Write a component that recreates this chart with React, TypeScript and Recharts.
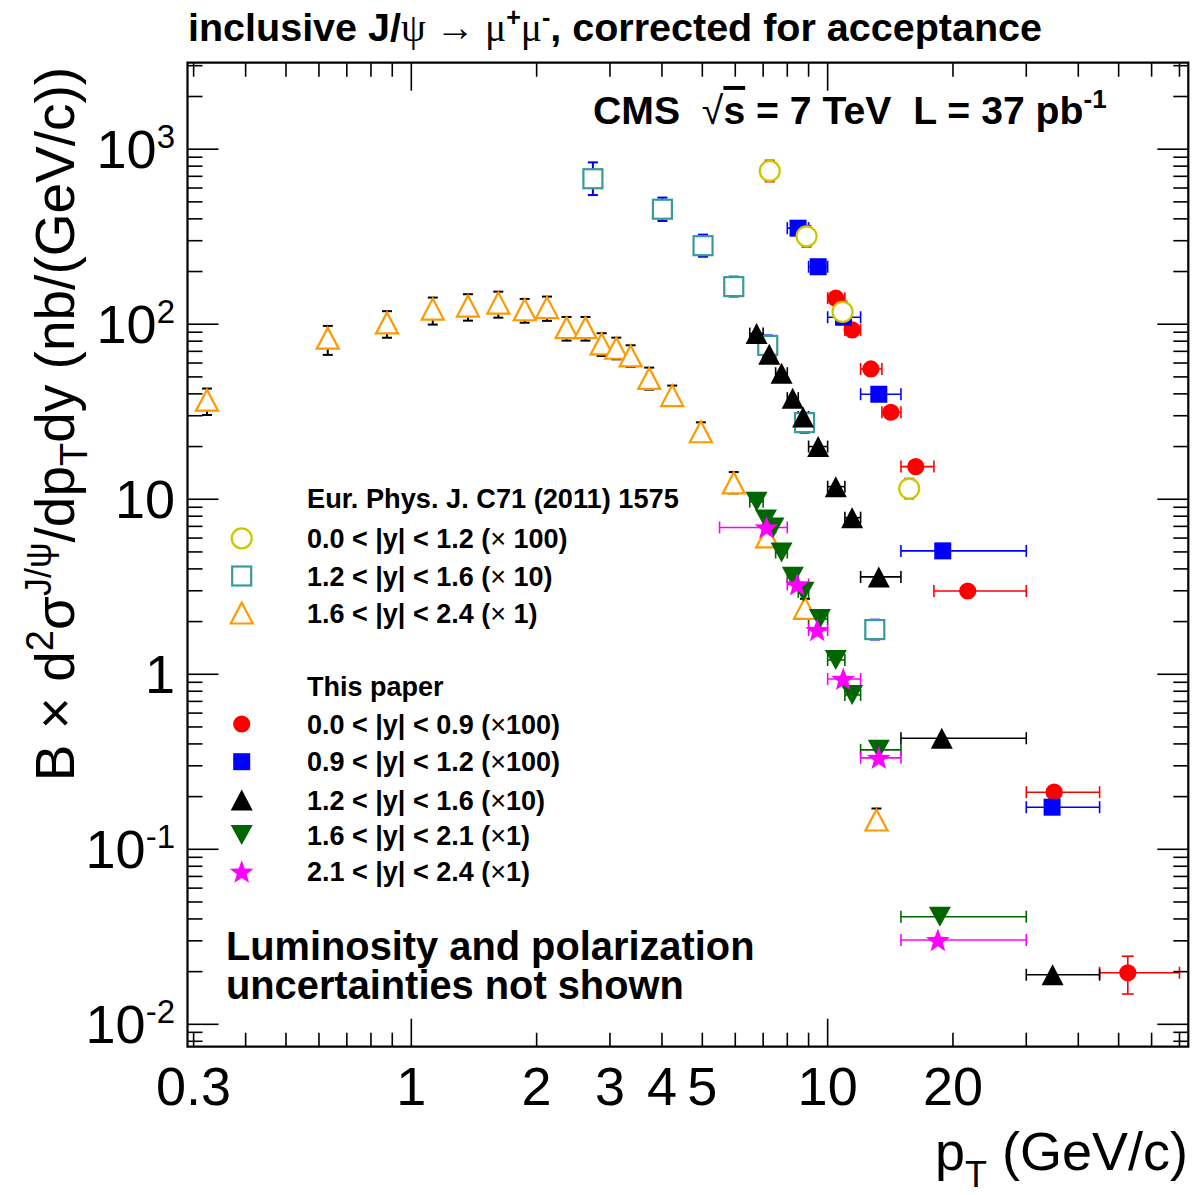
import { ScatterChart, Scatter, XAxis, YAxis, ErrorBar, ReferenceArea } from "recharts";

// page / frame geometry (pixels)
const W = 1194;
const H = 1195;
const PLOT = { left: 187.5, right: 1188.3, top: 62.7, bottom: 1046.7 };
const X_DOMAIN: [number, number] = [0.29, 73.5];
const Y_DOMAIN: [number, number] = [0.00745, 3120];
const FONT = "'Liberation Sans', Helvetica, Arial, sans-serif";
const SYMBOL_FONT = "'Liberation Serif', 'DejaVu Serif', serif";

// ---- axis ticks ----
const xTicks = [0.3, 0.4, 0.5, 0.6, 0.7, 0.8, 0.9, 1, 2, 3, 4, 5, 6, 7, 8, 9, 10, 20, 30, 40, 50, 60, 70];
const xMajorTicks = [1, 10];
const xLabelTicks = [0.3, 1, 2, 3, 4, 5, 10, 20];
const xLabelText = ["0.3", "1", "2", "3", "4", "5", "10", "20"];

const yTicks = [
  0.008, 0.009, 0.01, 0.02, 0.03, 0.04, 0.05, 0.06, 0.07, 0.08, 0.09,
  0.1, 0.2, 0.3, 0.4, 0.5, 0.6, 0.7, 0.8, 0.9,
  1, 2, 3, 4, 5, 6, 7, 8, 9,
  10, 20, 30, 40, 50, 60, 70, 80, 90,
  100, 200, 300, 400, 500, 600, 700, 800, 900,
  1000, 2000, 3000,
];
const yMajorTicks = [0.01, 0.1, 1, 10, 100, 1000];
const yLabelBase = ["10", "10", "1", "10", "10", "10"];
const yLabelExp = ["-2", "-1", "", "", "2", "3"];

// ---- Eur. Phys. J. C71 (2011) 1575 ----
// 0.0 < |y| < 1.2 (x100)
const epjCirclePt = [7.26, 8.9, 10.86, 15.7];
const epjCircleVal = [751, 318, 117.6, 11.5];
const epjCircleErrLo = [97, 41, 15, 1.4];
const epjCircleErrHi = [111, 47, 17, 1.6];

// 1.2 < |y| < 1.6 (x10)
const epjSquarePt = [2.73, 4.01, 5.02, 5.95, 7.18, 8.8, 12.98];
const epjSquareVal = [678, 454, 281, 164, 75.7, 27.4, 1.8];
const epjSquareErrLo = [131, 65, 38, 20, 9.3, 3.4, 0.22];
const epjSquareErrHi = [163, 75, 44, 23, 10.6, 3.8, 0.25];

// 1.6 < |y| < 2.4 (x1)
const epjTriPt = [0.323, 0.63, 0.874, 1.126, 1.368, 1.618, 1.872, 2.118, 2.36, 2.62, 2.865, 3.107, 3.363, 3.728, 4.233, 4.96, 5.95, 7.16, 8.82, 13.1];
const epjTriVal = [36.8, 83.2, 101.7, 122, 127, 132, 121, 124.5, 95.6, 95.6, 77.2, 72.9, 65.9, 49, 39.1, 24.3, 12.4, 6.09, 2.38, 0.147];
const epjTriErrLo = [6.5, 16.4, 18, 22.5, 22.2, 23, 19, 20, 15, 15, 11.3, 9.9, 8.9, 6.7, 5, 3, 1.6, 0.7, 0.3, 0.018];
const epjTriErrHi = [6.1, 14.6, 17, 20, 21.4, 21.5, 18.5, 19.3, 14.4, 14.4, 11.6, 10.9, 9.9, 7.5, 5.5, 3.2, 1.9, 0.8, 0.32, 0.024];

// ---- This paper ----
// 0.0 < |y| < 0.9 (x100)
const redPt = [10.46, 11.45, 12.7, 14.18, 16.28, 21.7, 35.0, 52.6];
const redPtLo = [10, 11, 12, 13.5, 15, 18, 30, 45];
const redPtHi = [11, 12, 13.5, 15, 18, 30, 45, 70];
const redVal = [140.8, 92.8, 55.5, 31.4, 15.36, 2.99, 0.212, 0.0197];
const redErr = [4, 2.6, 1.6, 1, 0.5, 0.12, 0.012, 0.0048];

// 0.9 < |y| < 1.2 (x100)
const bluePt = [8.49, 9.49, 10.92, 13.27, 18.9, 34.6];
const bluePtLo = [8, 9, 10, 12, 15, 30];
const bluePtHi = [9, 10, 12, 15, 30, 45];
const blueVal = [353.7, 213, 109.6, 39.8, 5.07, 0.174];

// 1.2 < |y| < 1.6 (x10)
const blackPt = [6.75, 7.24, 7.75, 8.24, 8.73, 9.49, 10.46, 11.45, 13.27, 18.8, 34.7];
const blackPtLo = [6.5, 7, 7.5, 8, 8.5, 9, 10, 11, 12, 15, 30];
const blackPtHi = [7, 7.5, 8, 8.5, 9, 10, 11, 12, 15, 30, 45];
const blackVal = [88.4, 67.4, 52.5, 37.8, 29.5, 20, 11.8, 7.85, 3.6, 0.431, 0.0192];

// 1.6 < |y| < 2.1 (x1)
const greenPt = [6.75, 7.11, 7.41, 7.75, 8.25, 8.75, 9.58, 10.46, 11.45, 13.27, 18.6];
const greenPtLo = [6.5, 7, 7.25, 7.5, 8, 8.5, 9, 10, 11, 12, 15];
const greenPtHi = [7, 7.25, 7.5, 8, 8.5, 9, 10, 11, 12, 15, 30];
const greenVal = [9.69, 7.65, 6.9, 4.96, 3.61, 2.96, 2.07, 1.207, 0.762, 0.37, 0.0412];

// 2.1 < |y| < 2.4 (x1)
const starPt = [7.13, 8.45, 9.44, 10.9, 13.27, 18.4];
const starPtLo = [5.5, 8, 9, 10, 12, 15];
const starPtHi = [8, 9, 10, 12, 15, 30];
const starVal = [6.9, 3.26, 1.79, 0.94, 0.333, 0.0303];

// ---- legend ----
const epjHeader = "Eur. Phys. J. C71 (2011) 1575";
const epjLabels = ["0.0 < |y| < 1.2 (", "1.2 < |y| < 1.6 (", "1.6 < |y| < 2.4 ("];
const epjFactors = [" 100)", " 10)", " 1)"];
const paperHeader = "This paper";
const paperLabels = ["0.0 < |y| < 0.9 (", "0.9 < |y| < 1.2 (", "1.2 < |y| < 1.6 (", "1.6 < |y| < 2.1 (", "2.1 < |y| < 2.4 ("];
const paperFactors = ["100)", "100)", "10)", "1)", "1)"];

const C = {
  yellow: "#c8c800",
  teal: "#3a9a9a",
  orange: "#ff9900",
  red: "#ff0000",
  blue: "#0000ff",
  black: "#000000",
  green: "#006600",
  magenta: "#ff00ff",
};

type Kind = "openCircle" | "openSquare" | "openTriangle" | "circle" | "square" | "triangle" | "invTriangle" | "star";

function build(pt: number[], val: number[], lo?: number[], hi?: number[], eLo?: number[], eHi?: number[]) {
  return pt.map((x, i) => ({
    x,
    y: val[i],
    ex: lo && hi ? [x - lo[i], hi[i] - x] : [0, 0],
    ey: eLo && eHi ? [eLo[i], eHi[i]] : [0, 0],
  }));
}

const epjCircleData = build(epjCirclePt, epjCircleVal, undefined, undefined, epjCircleErrLo, epjCircleErrHi);
const epjSquareData = build(epjSquarePt, epjSquareVal, undefined, undefined, epjSquareErrLo, epjSquareErrHi);
const epjTriData = build(epjTriPt, epjTriVal, undefined, undefined, epjTriErrLo, epjTriErrHi);
const redData = build(redPt, redVal, redPtLo, redPtHi, redErr, redErr);
const blueData = build(bluePt, blueVal, bluePtLo, bluePtHi);
const blackData = build(blackPt, blackVal, blackPtLo, blackPtHi);
const greenData = build(greenPt, greenVal, greenPtLo, greenPtHi);
const starData = build(starPt, starVal, starPtLo, starPtHi);

function Marker({ kind, cx, cy }: { kind: Kind; cx: number; cy: number }) {
  if (cx == null || cy == null || isNaN(cx) || isNaN(cy)) return <g />;
  switch (kind) {
    case "openCircle":
      return <circle cx={cx} cy={cy} r={10} fill="#fff" stroke={C.yellow} strokeWidth={2.2} />;
    case "openSquare":
      return <rect x={cx - 9.5} y={cy - 9.5} width={19} height={19} fill="#fff" stroke={C.teal} strokeWidth={2.2} />;
    case "openTriangle":
      return (
        <polygon
          points={`${cx},${cy - 10.5} ${cx - 11},${cy + 10.5} ${cx + 11},${cy + 10.5}`}
          fill="#fff"
          stroke={C.orange}
          strokeWidth={2.2}
        />
      );
    case "circle":
      return <circle cx={cx} cy={cy} r={8.6} fill={C.red} />;
    case "square":
      return <rect x={cx - 8.5} y={cy - 8.5} width={17} height={17} fill={C.blue} />;
    case "triangle":
      return <polygon points={`${cx},${cy - 10.5} ${cx - 11},${cy + 10.5} ${cx + 11},${cy + 10.5}`} fill={C.black} />;
    case "invTriangle":
      return <polygon points={`${cx - 11},${cy - 10} ${cx + 11},${cy - 10} ${cx},${cy + 10}`} fill={C.green} />;
    case "star": {
      const pts: string[] = [];
      for (let k = 0; k < 10; k++) {
        const a = (-90 + 36 * k) * (Math.PI / 180);
        const r = k % 2 === 0 ? 12.5 : 5.2;
        pts.push(`${cx + r * Math.cos(a)},${cy + 1 + r * Math.sin(a)}`);
      }
      return <polygon points={pts.join(" ")} fill={C.magenta} />;
    }
  }
  return <g />;
}

const shapeOf = (kind: Kind) => (p: any) => <Marker kind={kind} cx={p.cx} cy={p.cy} />;

function XTick(props: any) {
  const { x, payload } = props;
  const v = payload.value;
  const len = xMajorTicks.indexOf(v) >= 0 ? 28 : 14;
  const li = xLabelTicks.indexOf(v);
  return (
    <g>
      <line x1={x} x2={x} y1={PLOT.bottom} y2={PLOT.bottom - len} stroke="#000" strokeWidth={1.6} />
      <line x1={x} x2={x} y1={PLOT.top} y2={PLOT.top + len} stroke="#000" strokeWidth={1.6} />
      {li >= 0 && (
        <text x={x} y={PLOT.bottom + 58.3} textAnchor="middle" fontSize={54} fontFamily={FONT} fill="#000">
          {xLabelText[li]}
        </text>
      )}
    </g>
  );
}

function YTick(props: any) {
  const { y, payload } = props;
  const v = payload.value;
  const li = yMajorTicks.indexOf(v);
  const len = li >= 0 ? 31 : 15;
  return (
    <g>
      <line x1={PLOT.left} x2={PLOT.left + len} y1={y} y2={y} stroke="#000" strokeWidth={1.6} />
      <line x1={PLOT.right} x2={PLOT.right - len} y1={y} y2={y} stroke="#000" strokeWidth={1.6} />
      {li >= 0 && (
        <text x={175} y={y + 19} textAnchor="end" fontSize={54} fontFamily={FONT} fill="#000">
          {yLabelBase[li]}
          {yLabelExp[li] !== "" && (
            <tspan dy={-20} fontSize={33}>
              {yLabelExp[li]}
            </tspan>
          )}
        </text>
      )}
    </g>
  );
}

function Overlay() {
  const bold = { fontFamily: FONT, fontWeight: 700 as const, whiteSpace: "pre" as const };
  const legendX = 307;
  const markerX = 241.7;
  const epjY = [538.3, 576, 613];
  const epjKinds: Kind[] = ["openCircle", "openSquare", "openTriangle"];
  const paperY = [724, 761.7, 800, 835, 871.7];
  const paperKinds: Kind[] = ["circle", "square", "triangle", "invTriangle", "star"];
  return (
    <svg width={W} height={H} style={{ position: "absolute", left: 0, top: 0, pointerEvents: "none" }}>
      <text x={188} y={41} fontSize={39.5} style={bold} fill="#000">
        inclusive J/<tspan fontWeight={400} fontFamily={SYMBOL_FONT}>ψ → μ</tspan>
        <tspan fontSize={25} dy={-15}>+</tspan>
        <tspan dy={15} fontWeight={400} fontFamily={SYMBOL_FONT}>μ</tspan>
        <tspan fontSize={25} dy={-15}>-</tspan>
        <tspan dy={15}>, corrected for acceptance</tspan>
      </text>

      <text x={593} y={124} fontSize={39.2} style={bold} fill="#000">
        {"CMS  "}
        <tspan fontWeight={400}>√</tspan>
        <tspan textDecoration="overline">s</tspan>
        {" = 7 TeV  L = 37 pb"}
        <tspan fontSize={26} dy={-16}>-1</tspan>
      </text>

      <text x={legendX} y={508} fontSize={27.2} style={bold} fill="#000">
        {epjHeader}
      </text>
      {epjLabels.map((t, i) => (
        <g key={"e" + i}>
          <Marker kind={epjKinds[i]} cx={markerX} cy={epjY[i]} />
          <text x={legendX} y={epjY[i] + 9.6} fontSize={27} style={bold} fill="#000">
            {t}
            <tspan fontWeight={400}>×</tspan>
            {epjFactors[i]}
          </text>
        </g>
      ))}
      <text x={legendX} y={686 + 9.6} fontSize={27} style={bold} fill="#000">
        {paperHeader}
      </text>
      {paperLabels.map((t, i) => (
        <g key={"p" + i}>
          <Marker kind={paperKinds[i]} cx={markerX} cy={paperY[i]} />
          <text x={legendX} y={paperY[i] + 9.6} fontSize={27} style={bold} fill="#000">
            {t}
            <tspan fontWeight={400}>×</tspan>
            {paperFactors[i]}
          </text>
        </g>
      ))}

      <text x={226} y={960} fontSize={39.8} style={bold} fill="#000">
        Luminosity and polarization
      </text>
      <text x={226} y={999} fontSize={39.8} style={bold} fill="#000">
        uncertainties not shown
      </text>

      <text x={1188} y={1170} textAnchor="end" fontSize={54} fontFamily={FONT} fill="#000">
        p<tspan fontSize={36} dy={17}>T</tspan>
        <tspan dy={-17}> (GeV/c)</tspan>
      </text>

      <text
        transform="translate(74,424) rotate(-90)"
        textAnchor="middle"
        fontSize={55}
        fontFamily={FONT}
        fill="#000"
      >
        B × d<tspan fontSize={38} dy={-21}>2</tspan>
        <tspan dy={21}>σ</tspan>
        <tspan fontSize={36} dy={-23}>J/ψ</tspan>
        <tspan dy={23}>/dp</tspan>
        <tspan fontSize={38} dy={13}>T</tspan>
        <tspan dy={-13}>dy (nb/(GeV/c))</tspan>
      </text>
    </svg>
  );
}

export default function App() {
  return (
    <div style={{ position: "absolute", left: 0, top: 0, width: W, height: H, background: "#fff" }}>
      <ScatterChart
        width={W}
        height={H}
        margin={{ top: PLOT.top, right: W - PLOT.right, left: 0, bottom: 0 }}
      >
        <XAxis
          xAxisId="b"
          type="number"
          dataKey="x"
          scale="log"
          domain={X_DOMAIN}
          allowDataOverflow
          ticks={xTicks}
          interval={0}
          height={H - PLOT.bottom}
          axisLine={false}
          tickLine={false}
          tickSize={0}
          tickMargin={0}
          tick={(p: any) => <XTick {...p} />}
        />
        <YAxis
          yAxisId="l"
          type="number"
          dataKey="y"
          scale="log"
          domain={Y_DOMAIN}
          allowDataOverflow
          ticks={yTicks}
          interval={0}
          width={PLOT.left}
          axisLine={false}
          tickLine={false}
          tickSize={0}
          tickMargin={0}
          tick={(p: any) => <YTick {...p} />}
        />

        <Scatter xAxisId="b" yAxisId="l" data={epjTriData} isAnimationActive={false} shape={shapeOf("openTriangle")}>
          <ErrorBar dataKey="ey" direction="y" width={5} stroke={C.black} strokeWidth={2} />
        </Scatter>
        <Scatter xAxisId="b" yAxisId="l" data={epjSquareData} isAnimationActive={false} shape={shapeOf("openSquare")}>
          <ErrorBar dataKey="ey" direction="y" width={5} stroke={C.blue} strokeWidth={2} />
        </Scatter>

        <Scatter xAxisId="b" yAxisId="l" data={redData} isAnimationActive={false} shape={shapeOf("circle")}>
          <ErrorBar dataKey="ex" direction="x" width={6} stroke={C.red} strokeWidth={1.6} />
          <ErrorBar dataKey="ey" direction="y" width={6} stroke={C.red} strokeWidth={1.6} />
        </Scatter>
        <Scatter xAxisId="b" yAxisId="l" data={blueData} isAnimationActive={false} shape={shapeOf("square")}>
          <ErrorBar dataKey="ex" direction="x" width={6} stroke={C.blue} strokeWidth={1.6} />
        </Scatter>

        <Scatter xAxisId="b" yAxisId="l" data={epjCircleData} isAnimationActive={false} shape={shapeOf("openCircle")}>
          <ErrorBar dataKey="ey" direction="y" width={5} stroke={C.red} strokeWidth={2} />
        </Scatter>

        <Scatter xAxisId="b" yAxisId="l" data={blackData} isAnimationActive={false} shape={shapeOf("triangle")}>
          <ErrorBar dataKey="ex" direction="x" width={6} stroke={C.black} strokeWidth={1.6} />
        </Scatter>
        <Scatter xAxisId="b" yAxisId="l" data={greenData} isAnimationActive={false} shape={shapeOf("invTriangle")}>
          <ErrorBar dataKey="ex" direction="x" width={6} stroke={C.green} strokeWidth={1.6} />
        </Scatter>
        <Scatter xAxisId="b" yAxisId="l" data={starData} isAnimationActive={false} shape={shapeOf("star")}>
          <ErrorBar dataKey="ex" direction="x" width={6} stroke={C.magenta} strokeWidth={1.6} />
        </Scatter>

        <ReferenceArea
          xAxisId="b"
          yAxisId="l"
          x1={X_DOMAIN[0]}
          x2={X_DOMAIN[1]}
          y1={Y_DOMAIN[0]}
          y2={Y_DOMAIN[1]}
          fill="none"
          fillOpacity={0}
          stroke="#000"
          strokeWidth={2.2}
          ifOverflow="visible"
        />
      </ScatterChart>
      <Overlay />
    </div>
  );
}
